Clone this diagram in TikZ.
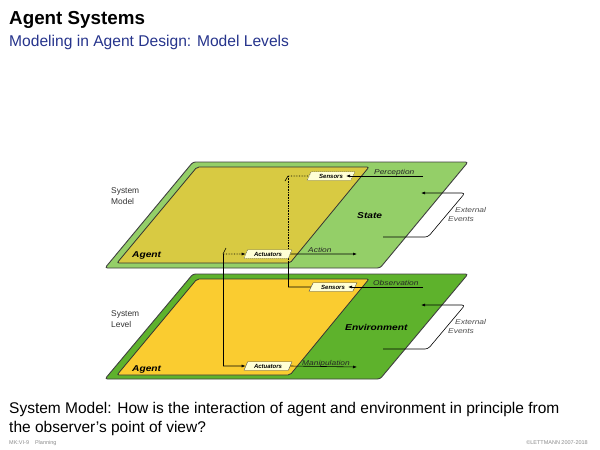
\documentclass[tikz,border=0pt]{standalone}
\usepackage{fontspec}
\setmainfont{Liberation Sans}
\usetikzlibrary{shapes.geometric,arrows.meta}
\definecolor{topgreen}{RGB}{148,207,104}
\definecolor{topyellow}{RGB}{216,202,66}
\definecolor{botgreen}{RGB}{94,178,44}
\definecolor{botyellow}{RGB}{250,204,48}
\definecolor{cream}{RGB}{255,255,214}
\definecolor{navy}{RGB}{38,52,140}
\tikzset{
  layer/.style={draw=black!75, line width=0.9pt, rounded corners=2.5pt},
  agentpl/.style={draw=black!80, line width=0.8pt, rounded corners=2pt},
  iobox/.style={trapezium, trapezium left angle=58, trapezium right angle=122,
    trapezium stretches=true, fill=cream, draw=black!70, line width=0.4pt,
    inner xsep=1pt, inner ysep=0pt, minimum height=8.5pt, minimum width=48pt,
    font=\fontsize{6}{6.5}\selectfont\bfseries\itshape},
  modelbox/.style={iobox, dashed, dash pattern=on 1.2pt off 0.8pt},
  lbl/.style={font=\fontsize{7}{8}\selectfont\itshape, text=black!85, anchor=base west, inner sep=0pt},
  evlbl/.style={font=\fontsize{7}{8}\selectfont\itshape, text=black!70, anchor=base west, inner sep=0pt},
  biglbl/.style={font=\fontsize{8.5}{9}\selectfont\bfseries\itshape, anchor=base west, inner sep=0pt},
  sidelbl/.style={font=\fontsize{8.4}{9}\selectfont, text=black!80, anchor=base west, inner sep=0pt},
  arr/.style={-{Latex[length=4pt,width=3pt]}, line width=0.6pt},
  conn/.style={line width=0.6pt},
  evarr/.style={arr, rounded corners=3pt},
}
\newcommand{\wide}[1]{\scalebox{1.2}[1]{#1}}
\begin{document}
\begin{tikzpicture}[x=1pt,y=-1pt]
\fill[white] (0,0) rectangle (600,450);
\useasboundingbox (0,0) rectangle (600,450);

% headings
\node[anchor=base west, inner sep=0pt, font=\fontsize{18.8}{20}\selectfont\bfseries] (title) at (9,24) {Agent Systems};
\node[anchor=base west, inner sep=0pt, font=\fontsize{15.6}{17}\selectfont, text=navy] (subtitle) at (9,46) {Modeling in Agent Design: Model Levels};

% layers
\draw[layer, fill=topgreen] (105,268) -- (380,268) -- (468,162) -- (193,162) -- cycle;
\draw[agentpl, fill=topyellow] (117,263) -- (290,263) -- (369,167) -- (197,167) -- cycle;
\draw[layer, fill=botgreen] (105,379) -- (380,379) -- (468,274) -- (193,274) -- cycle;
\draw[agentpl, fill=botyellow] (117,375) -- (290,375) -- (369,279) -- (197,279) -- cycle;

% side labels
\node[sidelbl] (sm1) at (111,193) {System};
\node[sidelbl] (sm2) at (111,204) {Model};
\node[sidelbl] (sl1) at (111,316) {System};
\node[sidelbl] (sl2) at (111,327) {Level};

% coordinates of the vertical links
\coordinate (a1) at (223,254);
\coordinate (a2) at (223,366);
\coordinate (s1) at (288,176);
\coordinate (sm) at (288,263);
\coordinate (s2) at (288,287);

\draw[conn] (a1) -- (a2);
\draw[conn] (a1) -- ++(3,-6);
\draw[conn, densely dotted] (s1) -- (sm);
\draw[conn] (sm) -- (s2);
\draw[conn] (s1) -- ++(-3,5);

% boxes
\node[modelbox] (ts) at (331,176) {Sensors};
\node[modelbox] (ta) at (268,254) {Actuators};
\node[iobox] (bs) at (333,287) {Sensors};
\node[iobox] (ba) at (268,366) {Actuators};

\draw[conn, densely dotted] (s1) -- (ts.west);
\draw[conn] (s2) -- (bs.west);
\draw[arr, densely dotted] (a1) -- (ta.west);
\draw[arr] (a2) -- (ba.west);

% percept / action arrows
\coordinate (pe) at (423,176);
\coordinate (ob) at (423,287);
\coordinate (ac) at (357,254);
\coordinate (ma) at (357,367);
\draw[arr] (pe) -- (ts.center -| 346,0);
\draw[arr] (ob) -- (bs.center -| 348,0);
\draw[arr] (ta.east) -- (ac);
\draw[arr] (ba.east) -- (ma);

\node[lbl] (lp) at (374,174) {\wide{Perception}};
\node[lbl] (lo) at (373,285) {\wide{Observation}};
\node[lbl] (la) at (308,252) {\wide{Action}};
\node[lbl] (lm) at (302,365) {\wide{Manipulation}};

% big labels
\node[biglbl] (ag1) at (132,257) {\wide{Agent}};
\node[biglbl] (ag2) at (132,371) {\wide{Agent}};
\node[biglbl] (st) at (357,218) {\wide{State}};
\node[biglbl] (en) at (345,330) {\wide{Environment}};

% external events
\coordinate (e1s) at (383,237);
\coordinate (e1a) at (428,237);
\coordinate (e1b) at (465,193);
\coordinate (e1e) at (421,193);
\draw[evarr] (e1s) -- (e1a) -- (e1b) -- (e1e);
\coordinate (e2s) at (383,349);
\coordinate (e2a) at (428,349);
\coordinate (e2b) at (465,305);
\coordinate (e2e) at (421,305);
\draw[evarr] (e2s) -- (e2a) -- (e2b) -- (e2e);
\node[evlbl] (x1) at (455,212) {\wide{External}};
\node[evlbl] (x2) at (448,221) {\wide{Events}};
\node[evlbl] (x3) at (455,324) {\wide{External}};
\node[evlbl] (x4) at (448,333) {\wide{Events}};

% bottom text
\node[anchor=base west, inner sep=0pt, font=\fontsize{15.5}{18}\selectfont] (q1) at (9,413) {System Model: How is the interaction of agent and environment in principle from};
\node[anchor=base west, inner sep=0pt, font=\fontsize{15.5}{18}\selectfont] (q2) at (9,432) {the observer’s point of view?};

% footer
\node[anchor=base west, inner sep=0pt, font=\fontsize{5.5}{6}\selectfont, text=black!45] (f1) at (9,444) {MK:VI-9\hspace{6pt}Planning};
\node[anchor=base east, inner sep=0pt, font=\fontsize{5.5}{6}\selectfont, text=black!45] (f2) at (588,444) {©LETTMANN 2007-2018};
\end{tikzpicture}
\end{document}
